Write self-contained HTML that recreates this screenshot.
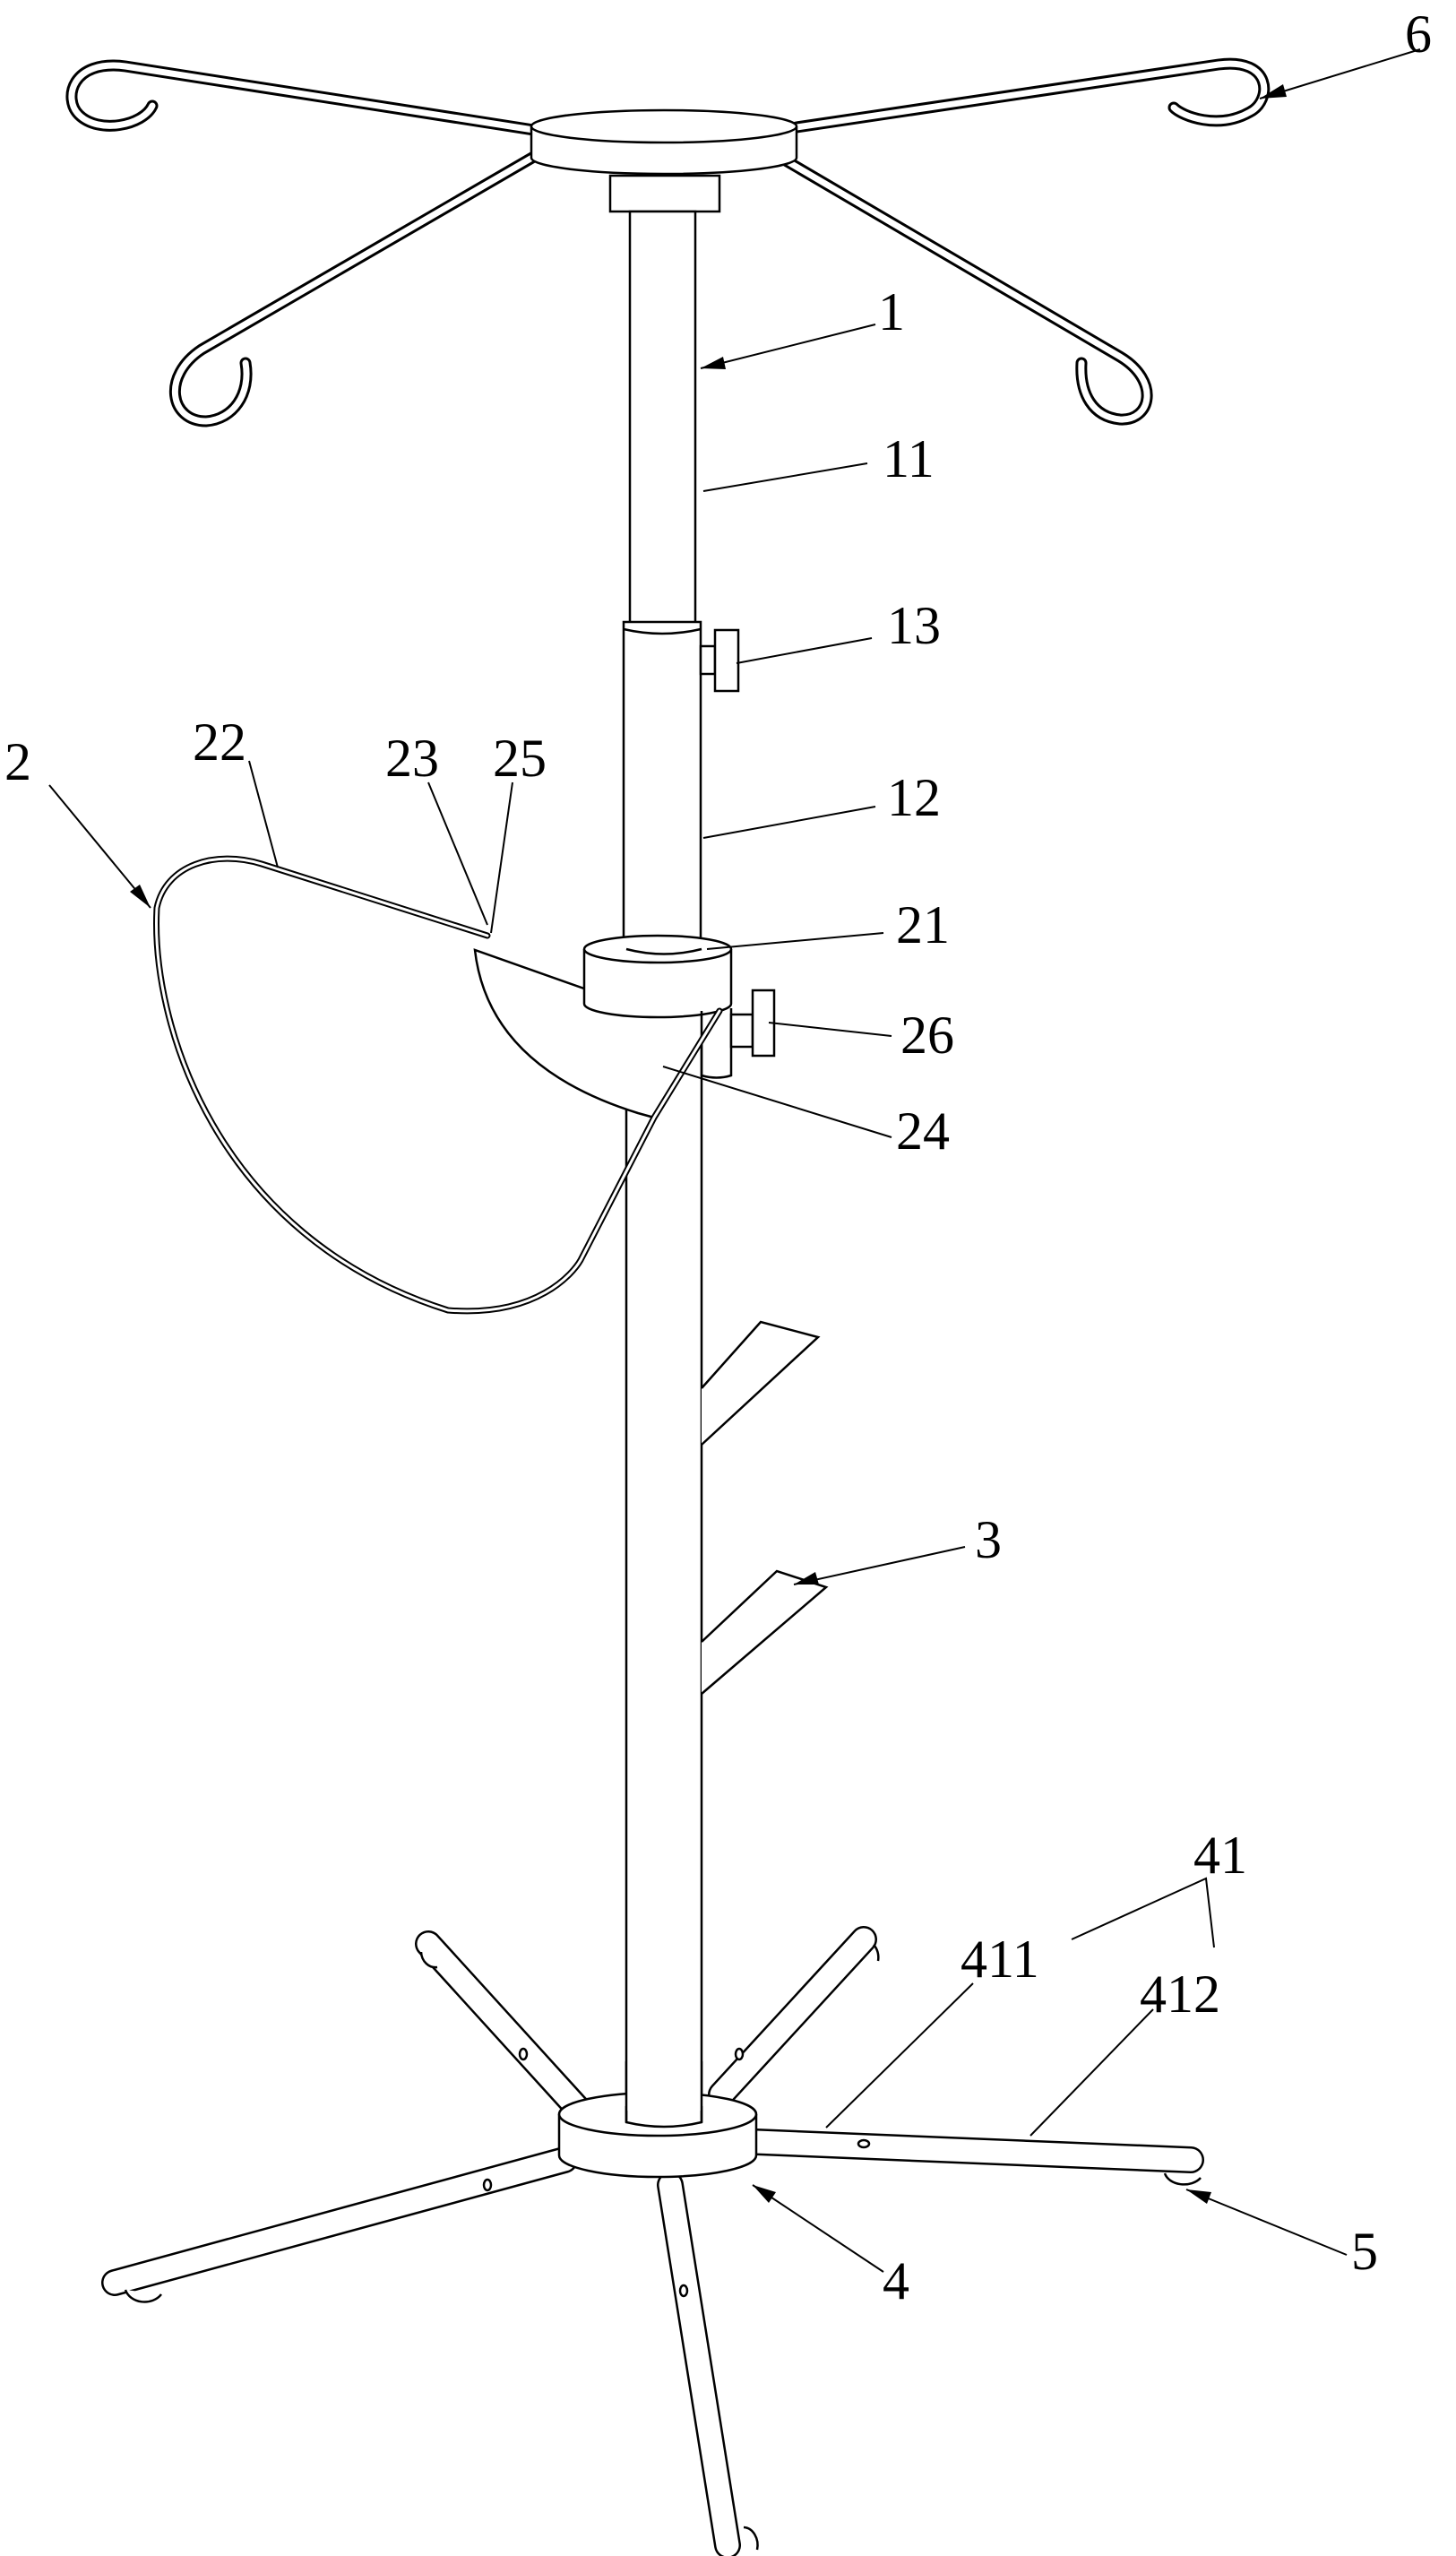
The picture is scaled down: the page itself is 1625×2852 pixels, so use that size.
<!DOCTYPE html>
<html><head><meta charset="utf-8"><style>
html,body{margin:0;padding:0;background:#fff}
svg{display:block}
text{font-family:"Liberation Serif",serif;font-size:60px;fill:#000}
</style></head><body>
<svg width="1625" height="2852" viewBox="0 0 1625 2852" xmlns="http://www.w3.org/2000/svg">
<defs>
<marker id="ar" markerWidth="10" markerHeight="8" refX="9" refY="4" orient="auto" markerUnits="userSpaceOnUse" viewBox="0 0 10 8">
</marker>
</defs>
<g fill="none" stroke-linecap="round" stroke-linejoin="round">
<!-- hook arms (tubes) -->
<g stroke="#000" stroke-width="13">
<path d="M602,146 L140,74 C80,66 70,110 88,128 C110,150 160,140 170,118"/>
<path d="M889,142 L1360,72 C1420,64 1420,112 1395,125 C1360,145 1320,130 1310,120"/>
<path d="M599,173 L225,390 C180,420 190,470 230,470 C260,468 280,440 274,405"/>
<path d="M858,168 L1250,398 C1295,425 1285,470 1250,468 C1220,465 1205,440 1207,405"/>
</g>
<g stroke="#fff" stroke-width="7">
<path d="M602,146 L140,74 C80,66 70,110 88,128 C110,150 160,140 170,118"/>
<path d="M889,142 L1360,72 C1420,64 1420,112 1395,125 C1360,145 1320,130 1310,120"/>
<path d="M599,173 L225,390 C180,420 190,470 230,470 C260,468 280,440 274,405"/>
<path d="M858,168 L1250,398 C1295,425 1285,470 1250,468 C1220,465 1205,440 1207,405"/>
</g>
</g>
<g stroke="#000" stroke-width="2.5" fill="#fff">
<!-- top disc -->
<path d="M593,141 L593,176 A148,18 0 0 0 889,176 L889,141"/>
<ellipse cx="741" cy="141" rx="148" ry="18"/>
<rect x="681" y="196" width="122" height="40"/>
<!-- pole 11 -->
<rect x="703" y="236" width="73" height="460"/>
<!-- tube 12 -->
<rect x="696" y="694" width="86" height="370"/>
<path d="M696,702 Q739,712 782,702" fill="none"/>
<!-- knob 13 -->
<rect x="782" y="721" width="16" height="31"/>
<rect x="798" y="703" width="26" height="68"/>
<!-- lower pole -->
<rect x="699" y="1120" width="84" height="1250"/>
<!-- brackets 3 -->
<path d="M783,1549 L849,1475 L913,1492 L783,1612"/>
<path d="M783,1832 L867,1753 L922,1771 L783,1890"/>
<!-- plate 24 -->
<path d="M530,1060 Q545,1190 712,1242 L730,1247 L803,1128 L783,1120 L700,1120 Z"/>
<!-- clamp 21 -->
<path d="M652,1059 L652,1120 A82,15 0 0 0 816,1120 L816,1059"/>
<ellipse cx="734" cy="1059" rx="82" ry="15"/>
<path d="M699,1059 Q741,1070 783,1059" fill="none"/>
<path d="M783,1128 L783,1200 Q800,1205 816,1200 L816,1125" fill="none"/>
<!-- knob 26 -->
<rect x="816" y="1132" width="24" height="36"/>
<rect x="840" y="1105" width="24" height="73"/>
</g>
<!-- basket wire -->
<g fill="none" stroke-linecap="round">
<path d="M544,1044 L292,964 C240,948 185,965 175,1013 C168,1140 240,1380 500,1462 C600,1470 640,1420 648,1406 L730,1247 L803,1128" stroke="#000" stroke-width="7"/>
<path d="M544,1044 L292,964 C240,948 185,965 175,1013 C168,1140 240,1380 500,1462 C600,1470 640,1420 648,1406 L730,1247 L803,1128" stroke="#fff" stroke-width="3"/>
</g>
<!-- legs -->
<g fill="none" stroke-linecap="round">
<g stroke="#000" stroke-width="30">
<path d="M648,2356 L478,2169"/>
<path d="M805,2337 L964,2164"/>
<path d="M844,2390 L1329,2410"/>
<path d="M630,2410 L128,2547"/>
<path d="M748,2438 L812,2840"/>
</g>
<g stroke="#fff" stroke-width="25">
<path d="M648,2356 L478,2169"/>
<path d="M805,2337 L964,2164"/>
<path d="M844,2390 L1329,2410"/>
<path d="M630,2410 L128,2547"/>
<path d="M748,2438 L812,2840"/>
</g>
</g>
<g stroke="#000" stroke-width="2.5" fill="#fff">
<path d="M140,2555 A22,18 0 0 0 180,2560"/>
<path d="M1300,2425 A22,16 0 0 0 1340,2430"/>
<path d="M830,2820 A16,20 0 0 1 845,2845"/>
<path d="M470,2178 A16,18 0 0 0 488,2195"/>
<path d="M975,2170 A14,18 0 0 1 980,2188"/>
<ellipse cx="584" cy="2292" rx="4" ry="6"/>
<ellipse cx="825" cy="2292" rx="4" ry="6"/>
<ellipse cx="964" cy="2392" rx="6" ry="4"/>
<ellipse cx="544" cy="2438" rx="4" ry="6"/>
<ellipse cx="763" cy="2556" rx="4" ry="6"/>
<!-- base disc -->
<path d="M624,2359 L624,2405 A110,24 0 0 0 844,2405 L844,2359"/>
<ellipse cx="734" cy="2359" rx="110" ry="24"/>
<path d="M699,2350 L699,2368 Q741,2378 783,2368 L783,2350" fill="#fff"/>
<rect x="700" y="2300" width="82" height="55" stroke="none"/>
<path d="M699,2300 L699,2368 M783,2300 L783,2368" fill="none"/>
</g>
<!-- leader lines -->
<g stroke="#000" stroke-width="2" fill="none">
<path d="M968,517 L785,548"/>
<path d="M973,712 L822,740"/>
<path d="M977,900 L785,935"/>
<path d="M986,1041 L789,1059"/>
<path d="M995,1156 L858,1141"/>
<path d="M995,1269 L740,1190"/>
<path d="M278,849 L310,968"/>
<path d="M478,873 L544,1032"/>
<path d="M572,873 L548,1041"/>
<path d="M1196,2164 L1346,2096 L1355,2173"/>
<path d="M1086,2213 L922,2374"/>
<path d="M1287,2242 L1150,2383"/>
<path d="M1585,55 L1406,110"/>
<path d="M977,362 L782,411"/>
<path d="M55,876 L168,1013"/>
<path d="M1077,1726 L886,1768"/>
<path d="M1503,2516 L1324,2443"/>
<path d="M986,2535 L840,2438"/>
</g>
<!-- arrowheads -->
<g fill="#000">
<polygon points="1406,110 1432,94 1436,108"/>
<polygon points="782,411 807,398 810,412"/>
<polygon points="168,1013 145,995 156,987"/>
<polygon points="886,1768 910,1754 914,1768"/>
<polygon points="1324,2443 1352,2446 1347,2459"/>
<polygon points="840,2438 866,2446 858,2458"/>
</g>
<text x="1568" y="58">6</text>
<text x="980" y="368">1</text>
<text x="985" y="532">11</text>
<text x="990" y="718">13</text>
<text x="990" y="910">12</text>
<text x="1000" y="1052">21</text>
<text x="1005" y="1175">26</text>
<text x="1000" y="1282">24</text>
<text x="215" y="848">22</text>
<text x="5" y="870">2</text>
<text x="430" y="866">23</text>
<text x="550" y="866">25</text>
<text x="1088" y="1738">3</text>
<text x="1332" y="2090">41</text>
<text x="1072" y="2206">411</text>
<text x="1272" y="2245">412</text>
<text x="1508" y="2532">5</text>
<text x="985" y="2565">4</text>
</svg>
</body></html>
